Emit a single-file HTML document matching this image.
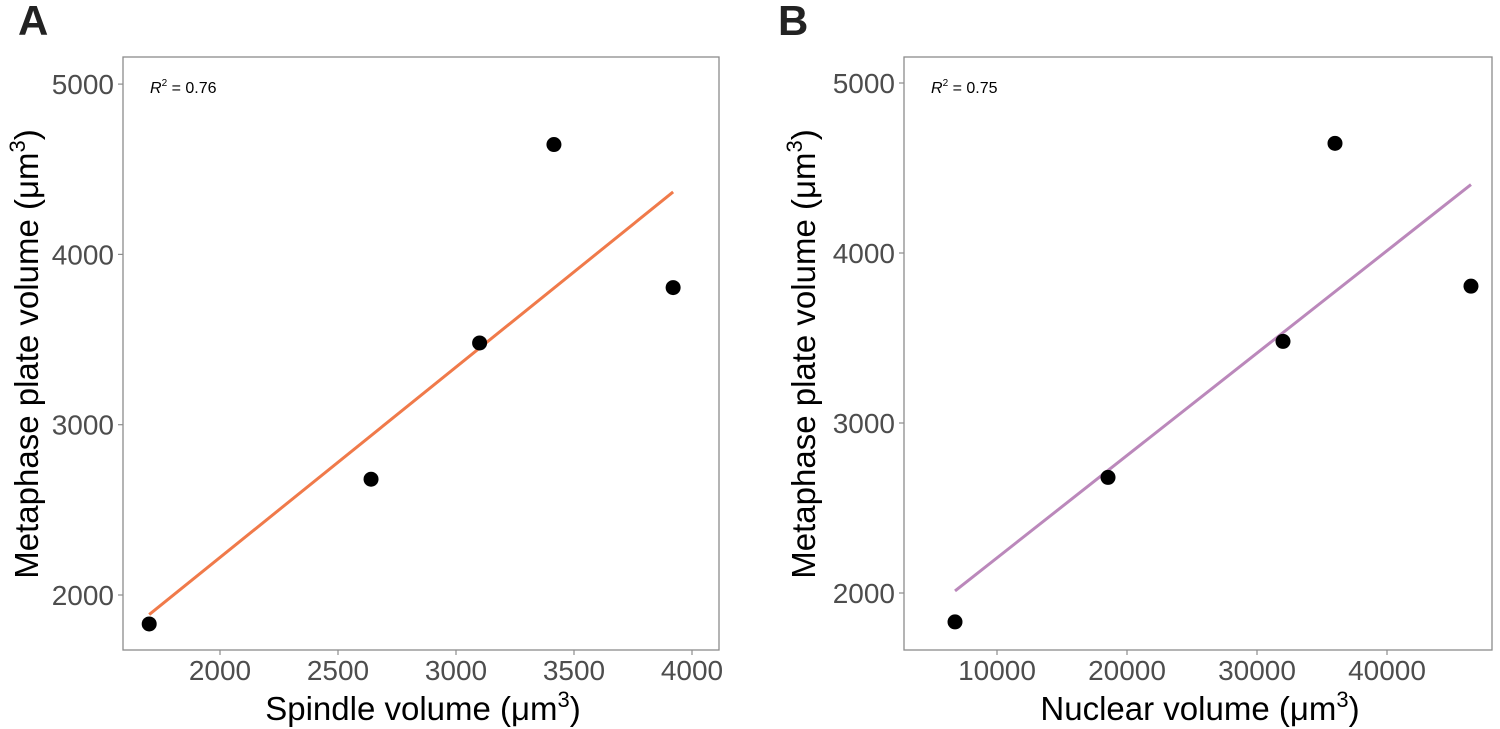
<!DOCTYPE html>
<html><head><meta charset="utf-8"><style>
html,body{margin:0;padding:0;background:#fff;width:1500px;height:729px;overflow:hidden}
svg{font-family:"Liberation Sans",Arial,sans-serif}
</style></head><body>
<svg id="fig" width="1500" height="729" xmlns="http://www.w3.org/2000/svg"></svg>
<script>
const yVals = [1830, 2680, 3480, 4645, 3805];
const xSpindle = [1700, 2640, 3100, 3415, 3920];
const xNuclear = [6770, 18540, 32000, 36000, 46460];
const yTicks = [2000, 3000, 4000, 5000];
const xTicksA = [2000, 2500, 3000, 3500, 4000];
const xTicksB = [10000, 20000, 30000, 40000];
const r2Labels = ["0.76", "0.75"];

const NS = "http://www.w3.org/2000/svg";
const svg = document.getElementById('fig');
function mk(tag, attrs, parent) {
  const e = document.createElementNS(NS, tag);
  for (const k in attrs) e.setAttribute(k, attrs[k]);
  (parent || svg).appendChild(e);
  return e;
}
function panel(cfg) {
  const g = mk('g', {});
  
  
  const sx = v => cfg.x0px + (v - cfg.x0v) * cfg.xs;
  const sy = v => cfg.y0px - (v - cfg.y0v) * cfg.ys;
  const box = mk('rect', {x: cfg.L, y: 57, width: cfg.R - cfg.L, height: 593, fill: 'none', stroke: '#8c8c8c', 'stroke-width': 1.3}, g);
  
  
  cfg.yt.forEach(t => {
    const y = sy(t);
    mk('line', {x1: cfg.L - 5, x2: cfg.L, y1: y, y2: y, stroke: '#8c8c8c', 'stroke-width': 1.2}, g);
    const tx = mk('text', {x: cfg.L - 9, y: y + 10, 'text-anchor': 'end', 'font-size': 28, fill: '#4d4d4d'}, g);
    tx.textContent = t;
    
    
  });
  cfg.xt.forEach(t => {
    const x = sx(t);
    mk('line', {x1: x, x2: x, y1: 650, y2: 655, stroke: '#8c8c8c', 'stroke-width': 1.2}, g);
    const tx = mk('text', {x: x, y: 680, 'text-anchor': 'middle', 'font-size': 28, fill: '#4d4d4d'}, g);
    tx.textContent = t;
    
    
  });
  const xs = cfg.xv, n = xs.length;
  const mx = xs.reduce((a, b) => a + b) / n, my = yVals.reduce((a, b) => a + b) / n;
  let sxy = 0, sxx = 0;
  for (let i = 0; i < n; i++) { sxy += (xs[i] - mx) * (yVals[i] - my); sxx += (xs[i] - mx) ** 2; }
  const b = sxy / sxx, a = my - b * mx;
  const xmin = Math.min(...xs), xmax = Math.max(...xs);
  const ln = mk('line', {x1: sx(xmin), y1: sy(a + b * xmin), x2: sx(xmax), y2: sy(a + b * xmax), stroke: cfg.color, 'stroke-width': 3}, g);
  
  
  xs.forEach((v, i) => {
    const c = mk('circle', {cx: sx(v), cy: sy(yVals[i]), r: 7.5, fill: '#000'}, g);
    
    
  });
  const r2 = mk('text', {x: cfg.L + 27, y: 93, 'font-size': 16, fill: '#000'}, g);
  r2.innerHTML = '<tspan font-style="italic">R</tspan><tspan dy="-7" font-size="10">2</tspan><tspan dy="7"> = ' + cfg.r2 + '</tspan>';
  
  
  const xt = mk('text', {x: (cfg.L + cfg.R) / 2 + 2, y: 720, 'text-anchor': 'middle', 'font-size': 33, fill: '#000'}, g);
  xt.innerHTML = cfg.xtitle + ' (μm<tspan dy="-13" font-size="22">3</tspan><tspan dy="13">)</tspan>';
  
  
  const yt = mk('text', {x: 0, y: 0, 'text-anchor': 'middle', 'font-size': 33, fill: '#000', transform: 'translate(' + cfg.ytx + ',354) rotate(-90)'}, g);
  yt.innerHTML = 'Metaphase plate volume (μm<tspan dy="-13" font-size="22">3</tspan><tspan dy="13">)</tspan>';
  
  
  const pl = mk('text', {x: cfg.letterX, y: 35, 'font-size': 42, 'font-weight': 'bold', fill: '#222'}, g);
  pl.textContent = cfg.letter;
  
  
}
panel({name: 'panel-a', L: 123, R: 719, x0v: 2000, x0px: 220, xs: 236 / 1000, y0v: 2000, y0px: 595, ys: 170.3 / 1000,
  xt: xTicksA, yt: yTicks, xv: xSpindle, color: '#f07a4a', r2: r2Labels[0], xtitle: 'Spindle volume', ytx: 38, letter: 'A', letterX: 18});
panel({name: 'panel-b', L: 904, R: 1492, x0v: 10000, x0px: 997, xs: 130 / 10000, y0v: 2000, y0px: 593, ys: 170 / 1000,
  xt: xTicksB, yt: yTicks, xv: xNuclear, color: '#bb88bb', r2: r2Labels[1], xtitle: 'Nuclear volume', ytx: 815, letter: 'B', letterX: 778});
</script>
</body></html>
